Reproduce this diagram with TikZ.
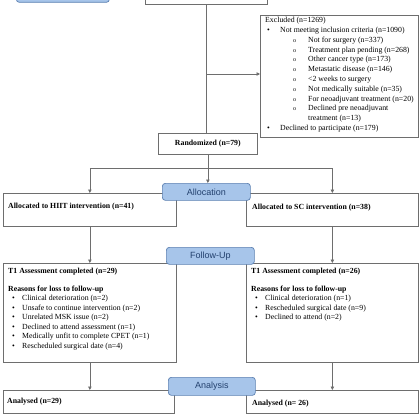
\documentclass[tikz,border=0pt]{standalone}
\usepackage{fontspec}
\setmainfont{Liberation Serif}
\newfontfamily\phasefont{Liberation Sans}
\usetikzlibrary{arrows.meta}

\definecolor{linegray}{HTML}{6E6E6E}
\definecolor{phasefill}{HTML}{A7C5EA}
\definecolor{phasedraw}{HTML}{5B7FB0}
\definecolor{phasetext}{HTML}{23416E}

\tikzset{
  box/.style={draw=linegray, line width=0.7pt, fill=white, anchor=north west, inner sep=0pt},
  phase/.style={draw=phasedraw, line width=0.7pt, fill=phasefill, rounded corners=3pt,
    anchor=north west, inner sep=0pt, text=phasetext,
    font=\phasefont\fontsize{9}{10}\selectfont},
  txt/.style={anchor=north west, inner sep=0pt, align=left,
    font=\fontsize{7.8}{9.5}\selectfont},
  ln/.style={draw=linegray, line width=0.7pt},
  arr/.style={ln, -{Triangle[length=3.5pt,width=3.5pt]}}
}

\newcommand{\bul}[1]{\hspace*{4pt}\makebox[10pt][l]{\textbullet}#1}
\newcommand{\xbul}[1]{\hspace*{2pt}\makebox[13pt][l]{\textbullet}#1}
\newcommand{\xsub}[1]{\hspace*{28pt}\makebox[15pt][l]{\fontsize{6}{6}\selectfont o}#1}

\begin{document}
\begin{tikzpicture}[x=1pt,y=-1pt]
  \useasboundingbox (0,0) rectangle (420,420);
  \clip (0,0) rectangle (420,420);

  % Kopf (abgeschnitten)
  \node[phase, minimum width=93pt, minimum height=32pt] (enrol) at (16,-30) {};
  \node[box, minimum width=122pt, minimum height=34pt] (assessed) at (145,-30) {};

  % Kästen
  \node[box, minimum width=158pt, minimum height=122pt] (excl) at (260,15) {};
  \node[box, minimum width=99pt, minimum height=21pt,
    font=\bfseries\fontsize{7.8}{8}\selectfont] (rand) at (158,133) {Randomized (n=79)};
  \node[box, minimum width=173pt, minimum height=33pt] (hiit) at (3,193) {};
  \node[box, minimum width=172pt, minimum height=33pt] (sc) at (246,193) {};
  \node[box, minimum width=173pt, minimum height=99pt] (hiitT1) at (3,263) {};
  \node[box, minimum width=172pt, minimum height=99pt] (scT1) at (246,263) {};
  \node[box, minimum width=171pt, minimum height=23pt] (hiitAn) at (3,390) {};
  \node[box, minimum width=172pt, minimum height=23pt] (scAn) at (246,390) {};

  % Verbindungen
  \coordinate (split) at (assessed.south |- 0,74);
  \coordinate (fork) at (206,168);
  \draw[ln] (assessed.south) -- (assessed.south |- rand.north);
  \draw[arr] (split) -- (split -| excl.west);
  \draw[arr] (rand.south) -- (rand.south |- 0,183);
  \draw[ln] (hiit.north |- fork) -- (sc.north |- fork);
  \draw[arr] (hiit.north |- fork) -- (hiit.north);
  \draw[arr] (sc.north |- fork) -- (sc.north);
  \draw[arr] (hiit.south) -- (hiitT1.north);
  \draw[arr] (sc.south) -- (scT1.north);
  \draw[arr] (hiitT1.south) -- (hiitT1.south |- hiitAn.north);
  \draw[arr] (scT1.south) -- (scT1.south |- scAn.north);

  % Phasen
  \node[phase, minimum width=88pt, minimum height=17pt] (alloc) at (162,183) {Allocation};
  \node[phase, minimum width=88pt, minimum height=17pt] (follow) at (166,247) {Follow-Up};
  \node[phase, minimum width=87pt, minimum height=18pt] (analysis) at (168,377) {Analysis};

  % Texte
  \node[txt, font=\fontsize{7.8}{9.8}\selectfont] (exclTxt) at (265,17) {%
    Excluded (n=1269)\\
    \xbul{Not meeting inclusion criteria (n=1090)}\\
    \xsub{Not for surgery (n=337)}\\
    \xsub{Treatment plan pending (n=268)}\\
    \xsub{Other cancer type (n=173)}\\
    \xsub{Metastatic disease (n=146)}\\
    \xsub{<2 weeks to surgery}\\
    \xsub{Not medically suitable (n=35)}\\
    \xsub{For neoadjuvant treatment (n=20)}\\
    \xsub{Declined pre neoadjuvant}\\
    \hspace*{43pt}treatment (n=13)\\
    \xbul{Declined to participate (n=179)}};
  \node[txt, font=\bfseries\fontsize{7.8}{9.5}\selectfont] (hiitTxt) at (8,203)
    {Allocated to HIIT intervention (n=41)};
  \node[txt, font=\bfseries\fontsize{7.8}{9.5}\selectfont] (scTxt) at (252,204)
    {Allocated to SC intervention (n=38)};
  \node[txt] (hiitT1Txt) at (8,267.5) {%
    \textbf{T1 Assessment completed (n=29)}\\[8.5pt]
    \textbf{Reasons for loss to follow-up}\\
    \bul{Clinical deterioration (n=2)}\\
    \bul{Unsafe to continue intervention (n=2)}\\
    \bul{Unrelated MSK issue (n=2)}\\
    \bul{Declined to attend assessment (n=1)}\\
    \bul{Medically unfit to complete CPET (n=1)}\\
    \bul{Rescheduled surgical date (n=4)}};
  \node[txt] (scT1Txt) at (251,267.5) {%
    \textbf{T1 Assessment completed (n=26)}\\[8.5pt]
    \textbf{Reasons for loss to follow-up}\\
    \bul{Clinical deterioration (n=1)}\\
    \bul{Rescheduled surgical date (n=9)}\\
    \bul{Declined to attend (n=2)}};
  \node[txt, font=\bfseries\fontsize{7.8}{9.5}\selectfont] (hiitAnTxt) at (7,397.5) {Analysed (n=29)};
  \node[txt, font=\bfseries\fontsize{7.8}{9.5}\selectfont] (scAnTxt) at (252,399.5) {Analysed (n= 26)};
\end{tikzpicture}
\end{document}
